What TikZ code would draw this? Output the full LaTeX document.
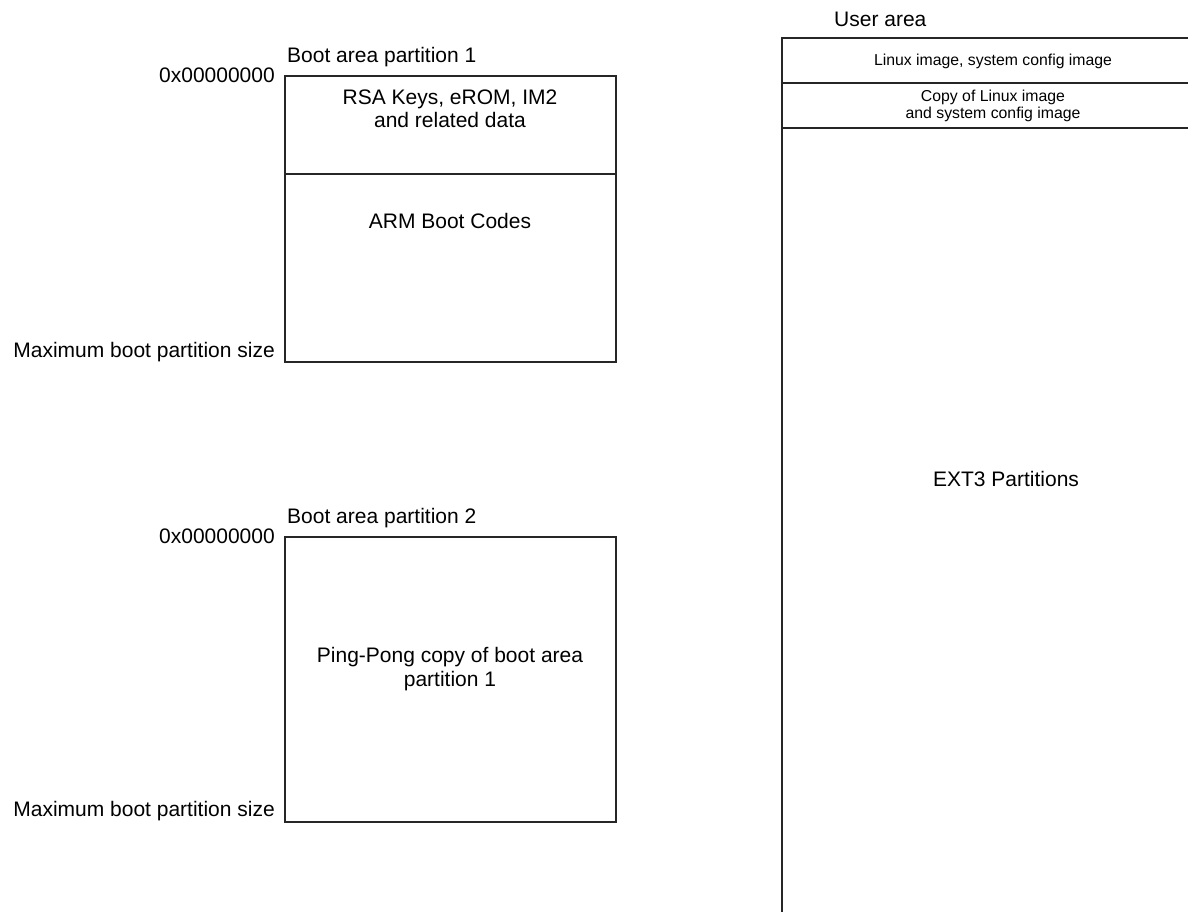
\documentclass[tikz,border=0pt]{standalone}
\usepackage{fontspec}
\setmainfont{Liberation Sans}
\begin{document}
\begin{tikzpicture}[x=1pt,y=-1pt,
  part/.style={draw=black!85,line width=1.8pt,rectangle,inner sep=0pt,anchor=north west},
  lbl/.style={inner sep=0pt,font=\fontsize{21}{23.5}\selectfont},
  small/.style={inner sep=0pt,align=center,font=\fontsize{15.8}{17.5}\selectfont}]
\useasboundingbox (0,0) rectangle (1188,911);
\clip (0,0) rectangle (1188,911);

% Boot area partition 1
\node[part,minimum width=331pt,minimum height=98pt] (keys) at (284,75) {};
\node[part,minimum width=331pt,minimum height=188pt] (arm) at (284,173) {};
\node[lbl,anchor=south west] (t1) at (287,67) {Boot area partition 1};
\node[lbl,anchor=east] (a1) at (275,75) {0x00000000};
\node[lbl,anchor=east] (m1) at (275,352) {Maximum boot partition size};
\node[lbl,align=center] (k1) at (450,109) {RSA Keys, eROM, IM2\\and related data};
\node[lbl] (c1) at (450,221) {ARM Boot Codes};

% Boot area partition 2
\node[part,minimum width=331pt,minimum height=285pt] (pp) at (284,536) {};
\node[lbl,anchor=south west] (t2) at (287,528) {Boot area partition 2};
\node[lbl,anchor=east] (a2) at (275,536) {0x00000000};
\node[lbl,anchor=east] (m2) at (275,811) {Maximum boot partition size};
\node[lbl,align=center] (p2) at (450,669) {Ping-Pong copy of boot area\\partition 1};

% User area
\node[part,minimum width=424pt,minimum height=45pt] (lx) at (781,37) {};
\node[part,minimum width=424pt,minimum height=45pt] (cp) at (781,82) {};
\node[part,minimum width=424pt,minimum height=840pt] (ext) at (781,127) {};
\node[lbl,anchor=south west] (ua) at (834,27) {User area};
\node[small] (l1) at (993,61) {Linux image, system config image};
\node[small] (l2) at (993,106) {Copy of Linux image\\and system config image};
\node[lbl] (e3) at (1006,479) {EXT3 Partitions};
\end{tikzpicture}
\end{document}
